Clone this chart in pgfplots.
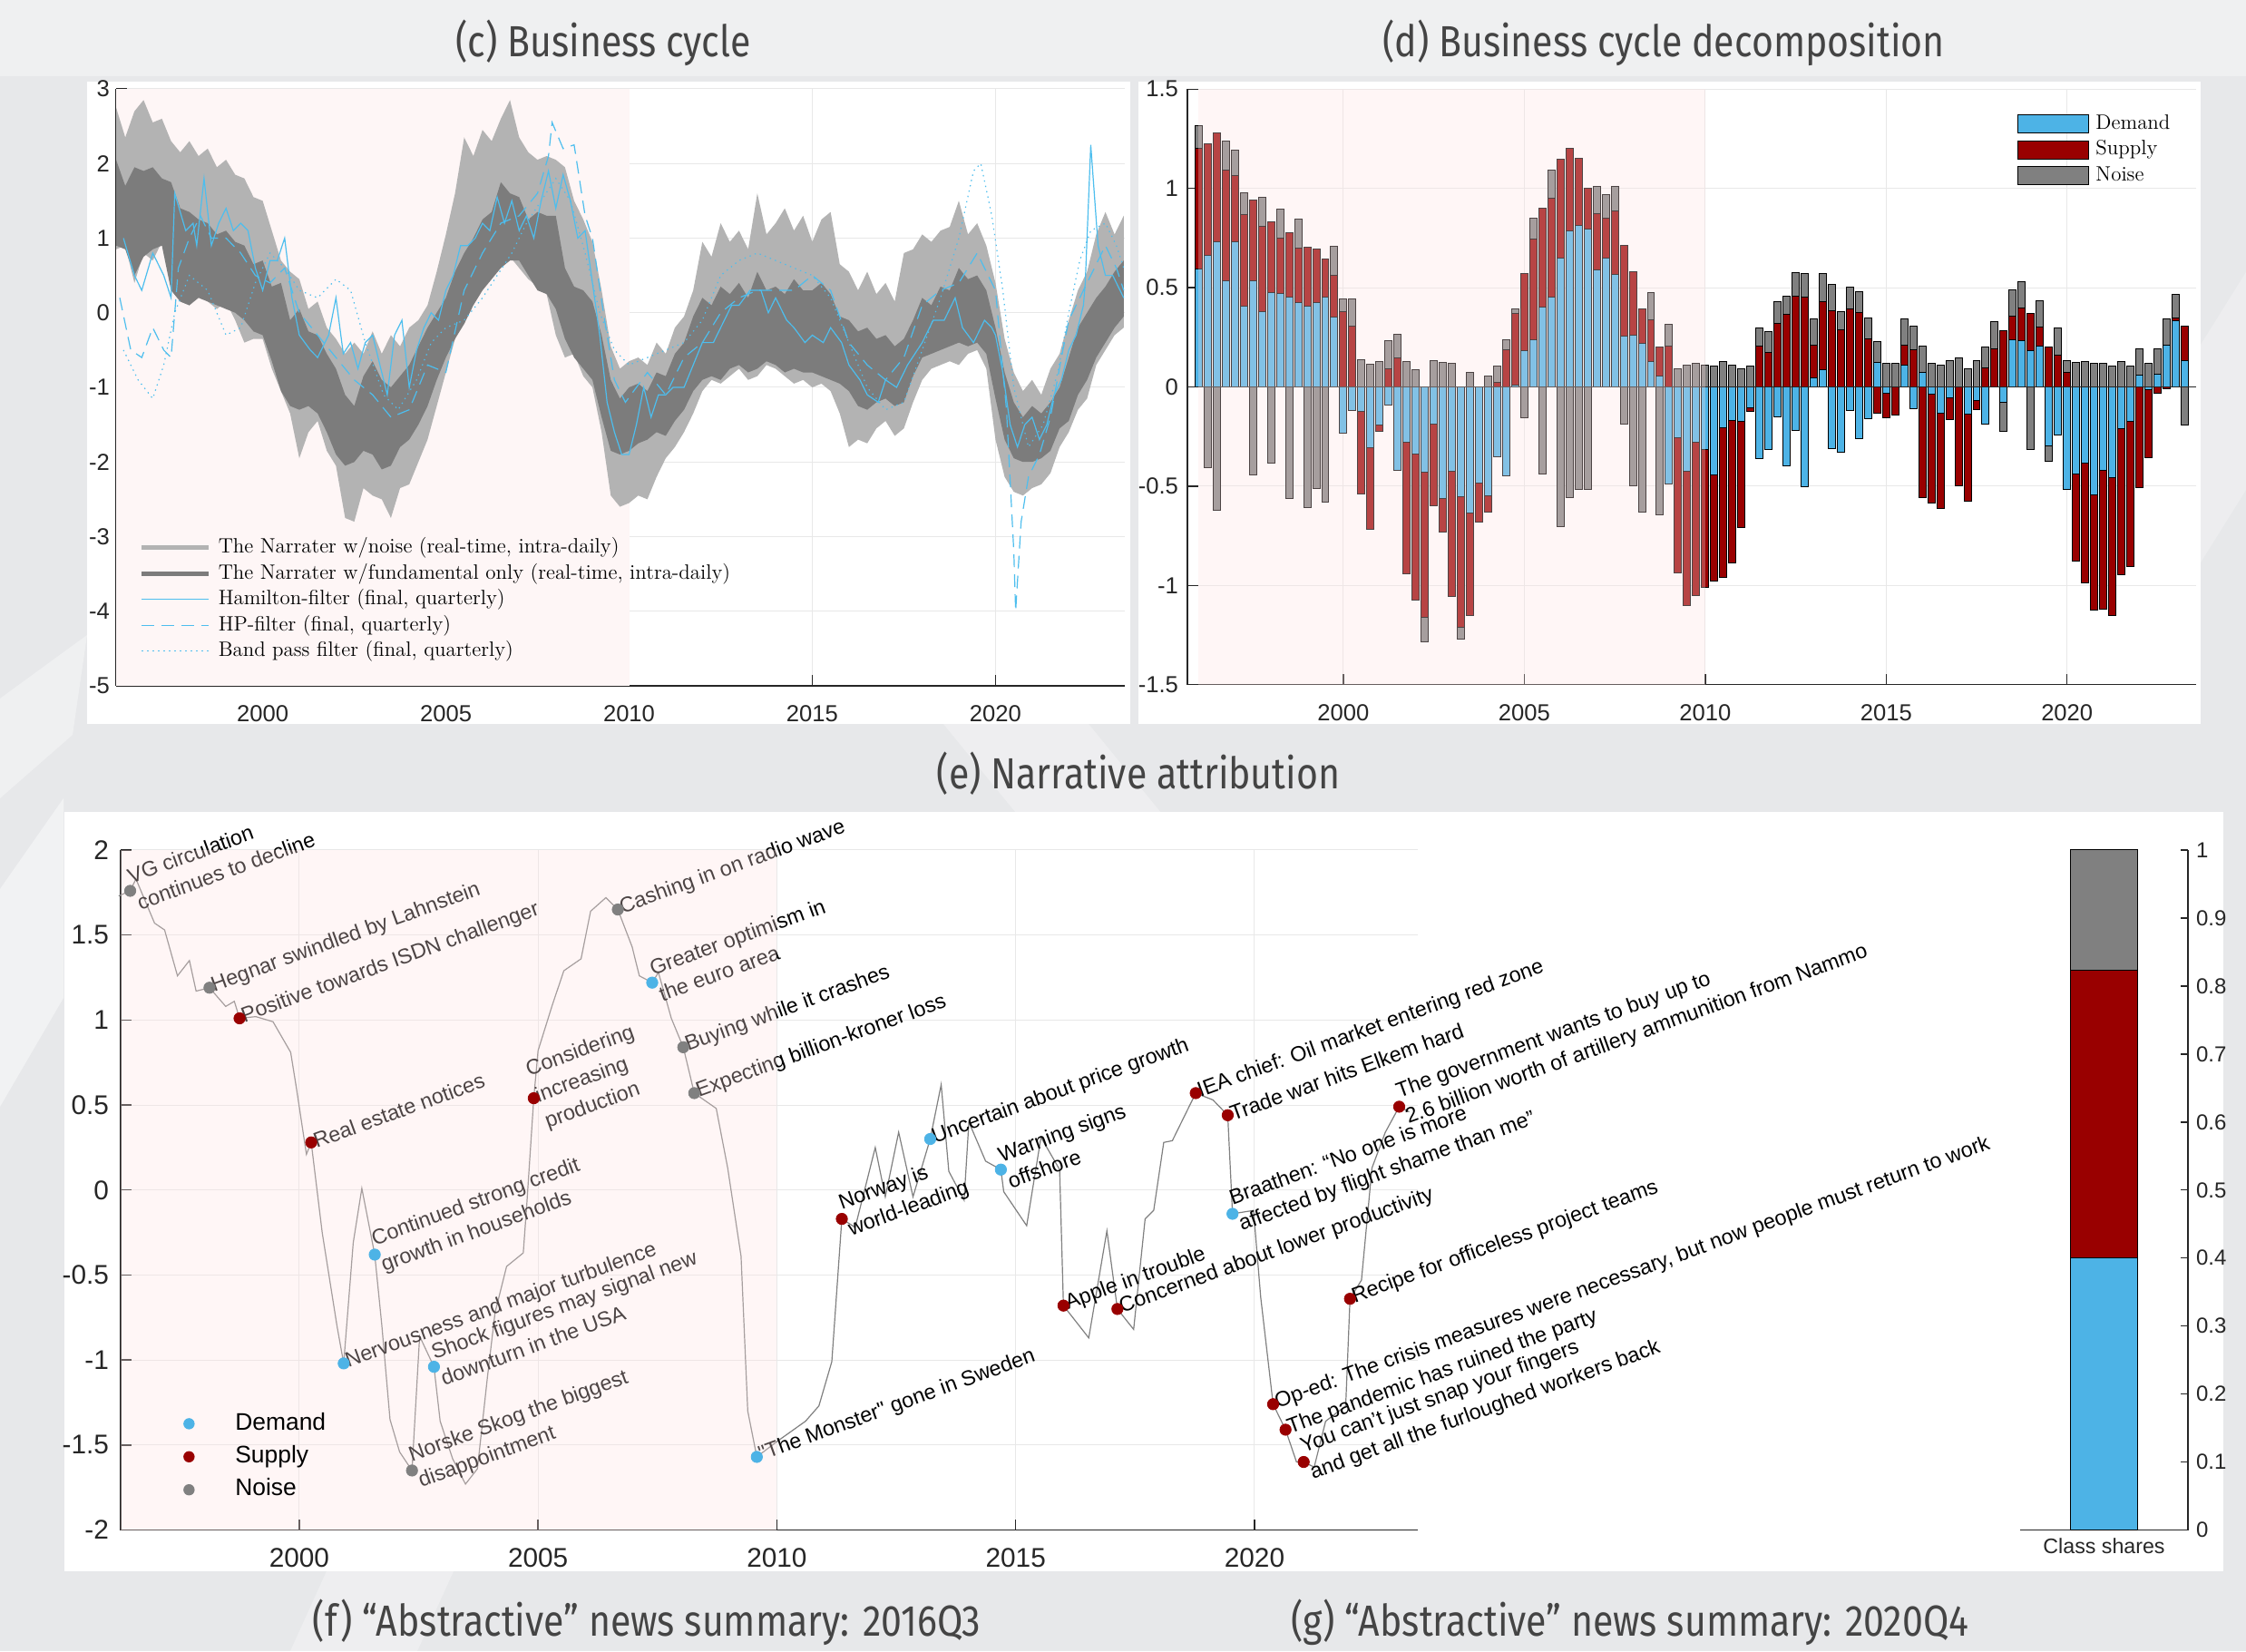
\documentclass[border=0pt]{standalone}
\usepackage{pgfplots}
\pgfplotsset{compat=1.18}
\usepackage{pgfplotstable}
\usepackage{fontspec}
\newfontfamily\arial{Liberation Sans}
\newfontfamily\fira[FakeStretch=0.855]{Fira Sans}
\definecolor{bgcol}{RGB}{231,232,234}
\definecolor{cDemand}{RGB}{77,179,230}
\definecolor{cSupply}{RGB}{153,0,0}
\definecolor{cNoise}{RGB}{128,128,128}
\definecolor{cLight}{RGB}{179,179,179}
\definecolor{cDark}{RGB}{124,124,124}
\definecolor{cLine}{RGB}{77,190,238}
\definecolor{pinkc}{RGB}{255,228,228}
\definecolor{pinkbg}{RGB}{254,246,246}
\definecolor{axcol}{RGB}{38,38,38}
\definecolor{gridcol}{RGB}{232,232,232}
\definecolor{titcol}{RGB}{68,68,68}

\pgfplotstableread{
x p1 p2 p3 n1 n2 n3
1996.00 0.593 1.200 1.316 0 0 0
1996.25 0.662 1.227 1.227 0 0 -0.409
1996.50 0.733 1.279 1.279 0 0 -0.620
1996.75 0.534 1.093 1.237 0 0 0
1997.00 0.731 1.063 1.194 0 0 0
1997.25 0.407 0.870 0.980 0 0 0
1997.50 0.534 0.941 0.941 0 0 -0.443
1997.75 0.379 0.810 0.957 0 0 0
1998.00 0.476 0.830 0.830 0 0 -0.383
1998.25 0.470 0.751 0.897 0 0 0
1998.50 0.451 0.775 0.775 0 0 -0.563
1998.75 0.423 0.700 0.846 0 0 0
1999.00 0.405 0.706 0.706 0 0 -0.609
1999.25 0.423 0.696 0.696 0 0 -0.512
1999.50 0.453 0.646 0.646 0 0 -0.579
1999.75 0.350 0.563 0.709 0 0 0
2000.00 0 0.377 0.441 -0.235 -0.235 -0.235
2000.25 0 0.306 0.443 -0.117 -0.117 -0.117
2000.50 0 0 0.136 -0.123 -0.540 -0.540
2000.75 0 0 0.115 -0.306 -0.717 -0.717
2001.00 0 0 0.126 -0.194 -0.223 -0.223
2001.25 0 0.093 0.233 -0.093 -0.093 -0.093
2001.50 0 0.144 0.267 -0.419 -0.419 -0.419
2001.75 0 0 0.130 -0.277 -0.943 -0.943
2002.00 0 0 0.087 -0.340 -1.073 -1.073
2002.25 0 0 0 -0.431 -1.160 -1.285
2002.50 0 0 0.134 -0.188 -0.597 -0.597
2002.75 0 0 0.125 -0.561 -0.731 -0.731
2003.00 0 0 0.121 -0.423 -1.057 -1.057
2003.25 0 0 0 -0.551 -1.209 -1.269
2003.50 0 0 0.071 -0.636 -1.150 -1.150
2003.75 0 0 0 -0.484 -0.680 -0.680
2004.00 0 0 0.057 -0.547 -0.630 -0.630
2004.25 0 0.024 0.107 -0.352 -0.352 -0.352
2004.50 0 0.188 0.237 -0.449 -0.449 -0.449
2004.75 0.010 0.372 0.391 0 0 0
2005.00 0.184 0.571 0.571 0 0 -0.156
2005.25 0.239 0.743 0.852 0 0 0
2005.50 0.401 0.901 0.901 0 0 -0.439
2005.75 0.453 0.951 1.093 0 0 0
2006.00 0.650 1.146 1.146 0 0 -0.704
2006.25 0.787 1.202 1.202 0 0 -0.557
2006.50 0.814 1.150 1.150 0 0 -0.518
2006.75 0.796 1.000 1.000 0 0 -0.518
2007.00 0.589 0.874 1.008 0 0 0
2007.25 0.650 0.850 0.970 0 0 0
2007.50 0.567 0.885 1.008 0 0 0
2007.75 0.255 0.711 0.711 0 0 -0.186
2008.00 0.261 0.581 0.581 0 0 -0.500
2008.25 0.219 0.391 0.391 0 0 -0.630
2008.50 0.126 0.336 0.476 0 0 0
2008.75 0.055 0.200 0.200 0 0 -0.646
2009.00 0 0.206 0.316 -0.488 -0.488 -0.488
2009.25 0 0 0.091 -0.255 -0.935 -0.935
2009.50 0 0 0.111 -0.425 -1.101 -1.101
2009.75 0 0 0.121 -0.281 -1.051 -1.051
2010.00 0 0 0.109 -0.314 -1.012 -1.012
2010.25 0 0 0.105 -0.445 -0.978 -0.978
2010.50 0 0 0.128 -0.208 -0.962 -0.962
2010.75 0 0 0.109 -0.168 -0.887 -0.887
2011.00 0 0 0.093 -0.176 -0.709 -0.709
2011.25 0 0 0.103 -0.103 -0.125 -0.125
2011.50 0 0.204 0.298 -0.360 -0.360 -0.360
2011.75 0 0.174 0.279 -0.316 -0.316 -0.316
2012.00 0 0.322 0.429 -0.152 -0.152 -0.152
2012.25 0 0.366 0.458 -0.399 -0.399 -0.399
2012.50 0 0.457 0.577 -0.221 -0.221 -0.221
2012.75 0 0.451 0.569 -0.504 -0.504 -0.504
2013.00 0.047 0.209 0.342 0 0 0
2013.25 0.085 0.429 0.569 0 0 0
2013.50 0 0.383 0.516 -0.310 -0.310 -0.310
2013.75 0 0.289 0.381 -0.330 -0.330 -0.330
2014.00 0 0.391 0.504 -0.119 -0.119 -0.119
2014.25 0 0.375 0.482 -0.261 -0.261 -0.261
2014.50 0 0.241 0.348 -0.158 -0.158 -0.158
2014.75 0.123 0.123 0.229 0 -0.134 -0.134
2015.00 0 0 0.119 -0.034 -0.154 -0.154
2015.25 0 0 0.119 0 -0.140 -0.140
2015.50 0.111 0.209 0.342 0 0 0
2015.75 0 0.188 0.308 -0.109 -0.109 -0.109
2016.00 0.075 0.075 0.206 0 -0.557 -0.557
2016.25 0 0 0.121 -0.036 -0.583 -0.583
2016.50 0 0 0.109 -0.132 -0.613 -0.613
2016.75 0 0 0.134 -0.053 -0.166 -0.166
2017.00 0 0 0.146 0 -0.498 -0.498
2017.25 0 0 0.091 -0.138 -0.577 -0.577
2017.50 0 0 0.134 -0.067 -0.115 -0.115
2017.75 0 0.095 0.202 -0.188 -0.188 -0.188
2018.00 0 0.190 0.330 0 0 0
2018.25 0 0.285 0.285 -0.079 -0.079 -0.223
2018.50 0.237 0.358 0.488 0 0 0
2018.75 0.231 0.397 0.530 0 0 0
2019.00 0.184 0.370 0.370 0 0 -0.316
2019.25 0.204 0.300 0.433 0 0 0
2019.50 0 0.200 0.200 -0.296 -0.296 -0.375
2019.75 0 0.160 0.296 -0.241 -0.241 -0.241
2020.00 0 0.071 0.132 -0.518 -0.518 -0.518
2020.25 0 0 0.125 -0.439 -0.879 -0.879
2020.50 0 0 0.130 -0.385 -0.988 -0.988
2020.75 0 0 0.119 -0.545 -1.126 -1.126
2021.00 0 0 0.121 -0.419 -1.121 -1.121
2021.25 0 0 0.105 -0.458 -1.154 -1.154
2021.50 0 0 0.130 -0.211 -0.945 -0.945
2021.75 0 0 0.105 -0.174 -0.905 -0.905
2022.00 0.059 0.059 0.190 0 -0.508 -0.508
2022.25 0 0 0.119 -0.014 -0.356 -0.356
2022.50 0.065 0.065 0.194 0 -0.034 -0.034
2022.75 0.209 0.209 0.344 0 -0.008 -0.008
2023.00 0.332 0.346 0.464 0 0 0
2023.25 0.132 0.308 0.308 0 0 -0.192
}\barsD

\pgfplotsset{
  myaxis/.style={
    scale only axis, clip=false,
    axis x line*=bottom, axis y line*=left,
    axis line style={draw=axcol, line width=0.75pt, -},
    tick align=inside, major tick length=6pt,
    every tick/.style={draw=axcol, line width=0.75pt},
    grid=major, grid style={draw=gridcol, line width=0.5pt},
    /pgf/number format/1000 sep={},
    /pgf/number format/assume math mode=true,
    ticklabel style={text=axcol},
  },
  ovl/.style={forget plot, draw=none, fill=pinkc, fill opacity=0.3},
}
\tikzset{lbl/.style={rotate=20, anchor=west, align=left, inner sep=1.5pt,
  font=\arial\fontsize{11.7}{15.3}\selectfont, text=black}}

\begin{document}
\begin{tikzpicture}
\path[use as bounding box] (0,0) rectangle (1238pt,910pt);
\fill[bgcol] (0,0) rectangle (1238pt,910pt);
% soft background decoration
\fill[white,opacity=0.35] (0,868pt) rectangle (1238pt,910pt);
\fill[white,opacity=0.45] (0pt,300pt) -- (35pt,360pt) -- (35pt,470pt) -- (0pt,420pt) -- cycle;
\fill[white,opacity=0.35] (0pt,470pt) -- (40pt,505pt) -- (48pt,560pt) -- (0pt,525pt) -- cycle;
\fill[white,opacity=0.3] (560pt,462pt) -- (640pt,462pt) -- (600pt,511pt) -- (520pt,511pt) -- cycle;
\fill[white,opacity=0.3] (160pt,0pt) -- (230pt,0pt) -- (250pt,44pt) -- (180pt,44pt) -- cycle;
\fill[white,opacity=0.25] (1213pt,600pt) -- (1238pt,640pt) -- (1238pt,760pt) -- (1213pt,720pt) -- cycle;
% white panels
\fill[white] (48pt,511pt) rectangle (623pt,865pt);
\fill[white] (627.5pt,511pt) rectangle (1213pt,865pt);
\fill[white] (35.5pt,44pt) rectangle (1225.5pt,462.5pt);
% titles
\node[text=titcol, font=\fira\fontsize{24}{28}\selectfont] at (332.5pt,886.5pt) {(c) Business cycle};
\node[text=titcol, font=\fira\fontsize{24}{28}\selectfont] at (917pt,886.5pt) {(d) Business cycle decomposition};
\node[text=titcol, font=\fira\fontsize{24}{28}\selectfont] at (627.5pt,483.5pt) {(e) Narrative attribution};
\node[text=titcol, font=\fira\fontsize{24}{28}\selectfont] at (356.5pt,16pt) {(f) “Abstractive” news summary: 2016Q3};
\node[text=titcol, font=\fira\fontsize{24}{28}\selectfont] at (898.5pt,16pt) {(g) “Abstractive” news summary: 2020Q4};

% ---------------- (c) ----------------
\begin{axis}[myaxis, at={(64pt,532pt)}, anchor=south west, width=556pt, height=329pt,
  xmin=1996, xmax=2023.53, ymin=-5, ymax=3,
  xtick={2000,2005,2010,2015,2020}, ytick={-5,-4,-3,-2,-1,0,1,2,3},
  ticklabel style={font=\arial\fontsize{12.8}{14}\selectfont},
  xticklabel style={yshift=-7.2pt},
  legend style={at={(0.0228,0.2508)}, anchor=north west, draw=none, fill=none,
    inner sep=0pt, row sep=1.75pt, column sep=3.5pt,
    font=\fontsize{11.45}{13}\selectfont,
    nodes={inner sep=0.5pt, text height=8.6pt, text depth=2.9pt}},
  legend cell align=left,
  legend image code/.code={\draw[#1] (0pt,0pt) -- (37pt,0pt);}]
\addplot[forget plot, draw=none, fill=pinkbg] coordinates {(1996,-5) (2010,-5) (2010,3) (1996,3)};
\addplot[forget plot, fill=cLight, draw=none] coordinates {
(1996.00,2.75) (1996.25,2.35) (1996.50,2.70) (1996.75,2.85) (1997.00,2.55) (1997.25,2.60) (1997.50,2.30) (1997.75,2.15) (1998.00,2.30) (1998.25,2.10) (1998.50,2.20) (1998.75,1.95) (1999.00,2.05) (1999.25,1.85) (1999.50,1.80) (1999.75,1.55) (2000.00,1.50) (2000.25,1.10) (2000.50,0.70) (2000.75,0.55) (2001.00,0.45) (2001.25,0.05) (2001.50,0.15) (2001.75,-0.20) (2002.00,-0.35) (2002.25,-0.55) (2002.50,-0.40) (2002.75,-0.55) (2003.00,-0.25) (2003.25,-0.55) (2003.50,-0.30) (2003.75,-0.45) (2004.00,-0.20) (2004.25,-0.10) (2004.50,0.10) (2004.75,0.55) (2005.00,1.05) (2005.25,1.60) (2005.50,2.35) (2005.75,2.10) (2006.00,2.45) (2006.25,2.30) (2006.50,2.60) (2006.75,2.85) (2007.00,2.35) (2007.25,2.15) (2007.50,2.05) (2007.75,2.10) (2008.00,2.05) (2008.25,1.95) (2008.50,1.50) (2008.75,1.25) (2009.00,0.95) (2009.25,0.30) (2009.50,-0.45) (2009.75,-0.75) (2010.00,-0.65) (2010.25,-0.60) (2010.50,-0.70) (2010.75,-0.40) (2011.00,-0.55) (2011.25,-0.20) (2011.50,-0.05) (2011.75,0.30) (2012.00,0.95) (2012.25,0.75) (2012.50,1.20) (2012.75,0.95) (2013.00,1.10) (2013.25,0.85) (2013.50,1.60) (2013.75,1.05) (2014.00,1.20) (2014.25,1.40) (2014.50,1.10) (2014.75,1.30) (2015.00,0.95) (2015.25,1.25) (2015.50,1.35) (2015.75,0.65) (2016.00,0.55) (2016.25,0.30) (2016.50,0.55) (2016.75,0.25) (2017.00,0.40) (2017.25,0.15) (2017.50,0.80) (2017.75,0.85) (2018.00,1.05) (2018.25,0.95) (2018.50,1.10) (2018.75,1.15) (2019.00,1.50) (2019.25,1.05) (2019.50,1.20) (2019.75,0.90) (2020.00,0.40) (2020.25,-0.35) (2020.50,-0.80) (2020.75,-1.05) (2021.00,-0.90) (2021.25,-1.10) (2021.50,-0.75) (2021.75,-0.55) (2022.00,-0.10) (2022.25,0.30) (2022.50,0.55) (2022.75,1.05) (2023.00,1.35) (2023.25,1.05) (2023.50,1.30)
(2023.50,-0.20) (2023.25,-0.30) (2023.00,-0.50) (2022.75,-0.70) (2022.50,-1.15) (2022.25,-1.30) (2022.00,-1.60) (2021.75,-1.80) (2021.50,-2.15) (2021.25,-2.30) (2021.00,-2.35) (2020.75,-2.45) (2020.50,-2.40) (2020.25,-2.20) (2020.00,-1.70) (2019.75,-0.75) (2019.50,-0.50) (2019.25,-0.55) (2019.00,-0.70) (2018.75,-0.65) (2018.50,-0.70) (2018.25,-0.75) (2018.00,-0.90) (2017.75,-1.20) (2017.50,-1.55) (2017.25,-1.65) (2017.00,-1.45) (2016.75,-1.55) (2016.50,-1.75) (2016.25,-1.70) (2016.00,-1.80) (2015.75,-1.35) (2015.50,-1.05) (2015.25,-0.95) (2015.00,-1.00) (2014.75,-0.90) (2014.50,-0.95) (2014.25,-0.85) (2014.00,-0.75) (2013.75,-0.70) (2013.50,-0.85) (2013.25,-0.90) (2013.00,-0.75) (2012.75,-0.85) (2012.50,-0.95) (2012.25,-0.90) (2012.00,-1.05) (2011.75,-1.35) (2011.50,-1.60) (2011.25,-1.80) (2011.00,-1.95) (2010.75,-2.20) (2010.50,-2.50) (2010.25,-2.45) (2010.00,-2.55) (2009.75,-2.60) (2009.50,-2.45) (2009.25,-1.60) (2009.00,-1.00) (2008.75,-0.85) (2008.50,-0.55) (2008.25,-0.60) (2008.00,-0.30) (2007.75,0.25) (2007.50,0.35) (2007.25,0.45) (2007.00,0.60) (2006.75,0.75) (2006.50,0.60) (2006.25,0.55) (2006.00,0.40) (2005.75,0.20) (2005.50,0.00) (2005.25,-0.35) (2005.00,-0.80) (2004.75,-1.25) (2004.50,-1.70) (2004.25,-2.00) (2004.00,-2.30) (2003.75,-2.35) (2003.50,-2.75) (2003.25,-2.50) (2003.00,-2.45) (2002.75,-2.35) (2002.50,-2.80) (2002.25,-2.75) (2002.00,-2.05) (2001.75,-1.85) (2001.50,-1.45) (2001.25,-1.60) (2001.00,-1.95) (2000.75,-1.35) (2000.50,-1.05) (2000.25,-0.75) (2000.00,-0.35) (1999.75,-0.35) (1999.50,-0.40) (1999.25,-0.10) (1999.00,0.15) (1998.75,0.05) (1998.50,0.15) (1998.25,0.25) (1998.00,0.10) (1997.75,0.15) (1997.50,0.45) (1997.25,0.95) (1997.00,0.70) (1996.75,0.80) (1996.50,0.40) (1996.25,0.90) (1996.00,0.85)
};
\addplot[forget plot, fill=cDark, draw=none] coordinates {
(1996.00,2.05) (1996.25,1.70) (1996.50,1.95) (1996.75,1.90) (1997.00,1.95) (1997.25,1.80) (1997.50,1.75) (1997.75,1.40) (1998.00,1.35) (1998.25,1.25) (1998.50,1.20) (1998.75,1.05) (1999.00,1.10) (1999.25,0.95) (1999.50,0.90) (1999.75,0.65) (2000.00,0.70) (2000.25,0.35) (2000.50,0.40) (2000.75,-0.10) (2001.00,0.05) (2001.25,-0.25) (2001.50,-0.30) (2001.75,-0.55) (2002.00,-0.75) (2002.25,-1.10) (2002.50,-1.25) (2002.75,-0.85) (2003.00,-0.65) (2003.25,-0.90) (2003.50,-1.00) (2003.75,-0.85) (2004.00,-0.70) (2004.25,-0.45) (2004.50,-0.20) (2004.75,0.00) (2005.00,0.20) (2005.25,0.55) (2005.50,0.80) (2005.75,1.00) (2006.00,1.25) (2006.25,1.35) (2006.50,1.75) (2006.75,1.60) (2007.00,1.55) (2007.25,1.25) (2007.50,1.35) (2007.75,1.30) (2008.00,1.30) (2008.25,0.60) (2008.50,0.35) (2008.75,0.30) (2009.00,0.15) (2009.25,-0.30) (2009.50,-0.90) (2009.75,-1.15) (2010.00,-1.00) (2010.25,-0.95) (2010.50,-1.05) (2010.75,-0.80) (2011.00,-0.85) (2011.25,-0.55) (2011.50,-0.40) (2011.75,-0.05) (2012.00,0.20) (2012.25,0.10) (2012.50,0.35) (2012.75,0.25) (2013.00,0.40) (2013.25,0.20) (2013.50,0.55) (2013.75,0.30) (2014.00,0.35) (2014.25,0.25) (2014.50,0.45) (2014.75,0.30) (2015.00,0.30) (2015.25,0.40) (2015.50,0.25) (2015.75,-0.05) (2016.00,-0.10) (2016.25,-0.25) (2016.50,-0.20) (2016.75,-0.35) (2017.00,-0.30) (2017.25,-0.45) (2017.50,-0.35) (2017.75,-0.10) (2018.00,0.20) (2018.25,0.10) (2018.50,0.35) (2018.75,0.30) (2019.00,0.60) (2019.25,0.45) (2019.50,0.50) (2019.75,0.30) (2020.00,-0.20) (2020.25,-0.80) (2020.50,-1.20) (2020.75,-1.40) (2021.00,-1.25) (2021.25,-1.35) (2021.50,-1.20) (2021.75,-1.00) (2022.00,-0.60) (2022.25,-0.20) (2022.50,0.00) (2022.75,0.20) (2023.00,0.35) (2023.25,0.55) (2023.50,0.70)
(2023.50,-0.05) (2023.25,-0.20) (2023.00,-0.40) (2022.75,-0.60) (2022.50,-0.90) (2022.25,-1.10) (2022.00,-1.45) (2021.75,-1.55) (2021.50,-1.85) (2021.25,-1.95) (2021.00,-2.00) (2020.75,-2.00) (2020.50,-1.95) (2020.25,-1.70) (2020.00,-1.15) (2019.75,-0.55) (2019.50,-0.40) (2019.25,-0.45) (2019.00,-0.40) (2018.75,-0.45) (2018.50,-0.50) (2018.25,-0.55) (2018.00,-0.60) (2017.75,-0.85) (2017.50,-1.20) (2017.25,-1.25) (2017.00,-1.15) (2016.75,-1.20) (2016.50,-1.30) (2016.25,-1.25) (2016.00,-1.05) (2015.75,-0.95) (2015.50,-0.90) (2015.25,-0.85) (2015.00,-0.80) (2014.75,-0.80) (2014.50,-0.75) (2014.25,-0.80) (2014.00,-0.70) (2013.75,-0.65) (2013.50,-0.75) (2013.25,-0.80) (2013.00,-0.70) (2012.75,-0.75) (2012.50,-0.90) (2012.25,-0.85) (2012.00,-0.90) (2011.75,-1.05) (2011.50,-1.30) (2011.25,-1.45) (2011.00,-1.65) (2010.75,-1.60) (2010.50,-1.70) (2010.25,-1.75) (2010.00,-1.85) (2009.75,-1.90) (2009.50,-1.85) (2009.25,-1.40) (2009.00,-0.90) (2008.75,-0.75) (2008.50,-0.60) (2008.25,-0.35) (2008.00,0.05) (2007.75,0.25) (2007.50,0.30) (2007.25,0.50) (2007.00,0.70) (2006.75,0.70) (2006.50,0.60) (2006.25,0.45) (2006.00,0.30) (2005.75,0.10) (2005.50,-0.15) (2005.25,-0.35) (2005.00,-0.60) (2004.75,-0.90) (2004.50,-1.25) (2004.25,-1.50) (2004.00,-1.70) (2003.75,-1.80) (2003.50,-2.05) (2003.25,-2.10) (2003.00,-1.90) (2002.75,-1.85) (2002.50,-2.00) (2002.25,-2.05) (2002.00,-1.90) (2001.75,-1.60) (2001.50,-1.35) (2001.25,-1.25) (2001.00,-1.30) (2000.75,-1.25) (2000.50,-1.05) (2000.25,-0.65) (2000.00,-0.30) (1999.75,-0.25) (1999.50,-0.10) (1999.25,0.00) (1999.00,0.05) (1998.75,0.10) (1998.50,0.15) (1998.25,0.20) (1998.00,0.10) (1997.75,0.15) (1997.50,0.30) (1997.25,0.90) (1997.00,0.85) (1996.75,0.75) (1996.50,0.50) (1996.25,0.85) (1996.00,0.90)
};
\addlegendimage{line width=2.5pt, color=cLight}
\addlegendentry{The Narrater w/noise (real-time, intra-daily)}
\addlegendimage{line width=2.5pt, color=cDark}
\addlegendentry{The Narrater w/fundamental only (real-time, intra-daily)}
\addplot[cLine, line width=0.6pt] coordinates {
(1996.2,1.0) (1996.5,0.5) (1996.7,0.3) (1997.0,0.8) (1997.3,0.5) (1997.5,0.2) (1997.6,1.6) (1997.9,1.1) (1998.1,1.2) (1998.2,0.9) (1998.4,1.8) (1998.6,0.9) (1998.8,1.2) (1999.0,1.4) (1999.2,1.1) (1999.4,1.2) (1999.6,1.1) (1999.8,0.6) (2000.0,0.3) (2000.2,0.7) (2000.4,0.7) (2000.6,1.0) (2000.8,0.2) (2001.0,-0.3) (2001.3,-0.5) (2001.5,-0.6) (2001.8,-0.3) (2002.0,0.2) (2002.2,-0.55) (2002.4,-0.4) (2002.6,-0.75) (2002.8,-0.4) (2003.0,-0.3) (2003.2,-0.7) (2003.4,-1.1) (2003.6,-0.3) (2003.8,-0.1) (2004.0,-1.0) (2004.2,-0.5) (2004.4,-0.2) (2004.6,0.0) (2004.8,-0.1) (2005.0,0.3) (2005.2,0.5) (2005.4,0.9) (2005.6,0.9) (2005.8,1.0) (2006.0,1.2) (2006.2,1.1) (2006.4,1.55) (2006.6,1.2) (2006.8,1.5) (2007.0,1.1) (2007.2,1.3) (2007.4,1.0) (2007.6,1.5) (2007.8,1.9) (2008.0,1.4) (2008.2,1.85) (2008.4,1.5) (2008.6,1.0) (2008.8,1.1) (2009.0,0.4) (2009.2,-0.3) (2009.4,-1.2) (2009.6,-1.6) (2009.8,-1.9) (2010.0,-1.9) (2010.2,-1.5) (2010.4,-1.0) (2010.6,-1.4) (2010.8,-1.1) (2011.0,-1.1) (2011.2,-1.0) (2011.5,-1.0) (2011.75,-0.7) (2012.0,-0.4) (2012.3,-0.4) (2012.5,-0.2) (2012.8,0.1) (2013.0,0.1) (2013.3,0.3) (2013.6,0.3) (2013.8,0.0) (2014.0,0.2) (2014.3,-0.1) (2014.5,-0.2) (2014.8,-0.4) (2015.0,-0.3) (2015.3,-0.4) (2015.5,-0.2) (2015.8,-0.4) (2016.0,-0.7) (2016.3,-0.9) (2016.5,-1.1) (2016.8,-1.2) (2017.0,-0.9) (2017.3,-1.0) (2017.6,-0.7) (2018.0,-0.4) (2018.3,-0.1) (2018.6,-0.1) (2018.9,0.2) (2019.1,-0.2) (2019.4,-0.4) (2019.7,-0.1) (2019.9,-0.2) (2020.0,-0.3) (2020.2,-0.8) (2020.4,-1.5) (2020.6,-1.8) (2020.8,-1.5) (2021.0,-1.4) (2021.2,-1.7) (2021.4,-1.5) (2021.6,-1.1) (2021.8,-0.9) (2022.0,-0.5) (2022.2,-0.3) (2022.4,0.1) (2022.45,0.4) (2022.6,2.25) (2022.8,0.9) (2023.0,0.5) (2023.2,0.5) (2023.5,0.2)
};
\addlegendentry{Hamilton-filter (final, quarterly)}
\addplot[cLine, line width=0.6pt, dash pattern=on 7pt off 4pt] coordinates {
(1996.1,0.2) (1996.4,-0.5) (1996.7,-0.6) (1997.0,-0.2) (1997.3,-0.5) (1997.5,-0.6) (1997.7,0.6) (1998.0,1.0) (1998.3,1.3) (1998.6,1.0) (1999.0,1.0) (1999.4,0.8) (1999.8,0.5) (2000.2,0.4) (2000.6,0.6) (2001.0,0.0) (2001.5,-0.3) (2002.0,-0.6) (2002.5,-0.9) (2003.0,-1.1) (2003.5,-1.4) (2004.0,-1.3) (2004.5,-0.7) (2005.0,-0.8) (2005.5,0.3) (2006.0,0.8) (2006.5,1.2) (2007.0,1.3) (2007.5,1.6) (2007.8,2.1) (2007.9,2.55) (2008.2,2.2) (2008.5,2.25) (2008.8,1.3) (2009.0,1.0) (2009.3,0.0) (2009.6,-0.9) (2009.9,-1.2) (2010.2,-1.0) (2010.5,-0.8) (2011.0,-1.1) (2011.5,-0.6) (2012.0,-0.4) (2012.5,0.0) (2013.0,0.2) (2013.5,0.3) (2014.0,0.3) (2014.5,0.3) (2015.0,0.5) (2015.5,0.3) (2016.0,-0.4) (2016.5,-0.7) (2017.0,-0.9) (2017.5,-0.6) (2018.0,0.1) (2018.5,0.3) (2019.0,0.4) (2019.5,0.8) (2020.0,0.3) (2020.3,-1.3) (2020.5,-3.2) (2020.55,-4.0) (2020.7,-2.8) (2020.9,-2.2) (2021.2,-1.9) (2021.5,-1.4) (2021.8,-0.6) (2022.0,-0.1) (2022.3,0.2) (2022.6,0.5) (2023.0,0.9) (2023.3,0.6) (2023.5,0.3)
};
\addlegendentry{HP-filter (final, quarterly)}
\addplot[cLine, line width=0.6pt, dash pattern=on 0.7pt off 2.3pt] coordinates {
(1996.2,-0.5) (1996.6,-0.9) (1997.0,-1.15) (1997.3,-0.7) (1997.6,0.0) (1998.0,0.5) (1998.5,0.3) (1999.0,-0.3) (1999.4,-0.2) (1999.8,0.4) (2000.2,0.8) (2000.6,0.6) (2001.0,0.3) (2001.5,0.2) (2002.0,0.45) (2002.4,0.3) (2002.8,-0.4) (2003.3,-1.1) (2003.7,-1.3) (2004.2,-0.9) (2004.6,-0.4) (2005.0,-0.2) (2005.5,-0.1) (2006.0,0.2) (2006.4,0.5) (2006.8,0.8) (2007.2,1.2) (2007.6,1.5) (2008.0,1.8) (2008.4,1.5) (2008.8,0.8) (2009.2,0.0) (2009.6,-0.5) (2010.0,-0.7) (2010.5,-0.6) (2011.0,-0.5) (2011.5,-0.4) (2012.0,-0.1) (2012.5,0.5) (2013.0,0.7) (2013.5,0.8) (2014.0,0.7) (2014.5,0.6) (2015.0,0.5) (2015.5,0.2) (2016.0,-0.4) (2016.5,-1.0) (2017.0,-1.3) (2017.5,-1.2) (2018.0,-0.5) (2018.5,0.2) (2019.0,1.0) (2019.4,1.9) (2019.6,2.0) (2019.9,1.3) (2020.2,0.3) (2020.5,-1.0) (2020.9,-1.8) (2021.3,-1.5) (2021.7,-0.8) (2022.0,0.0) (2022.3,0.7) (2022.6,1.1) (2023.0,1.2) (2023.3,0.9) (2023.5,0.6)
};
\addlegendentry{Band pass filter (final, quarterly)}
\end{axis}

% ---------------- (d) ----------------
\begin{axis}[myaxis, at={(654.5pt,532.65pt)}, anchor=south west, width=555.85pt, height=328.2pt,
  xmin=1995.69, xmax=2023.56, ymin=-1.5, ymax=1.5,
  xtick={2000,2005,2010,2015,2020}, ytick={-1.5,-1,-0.5,0,0.5,1,1.5},
  ticklabel style={font=\arial\fontsize{12.8}{14}\selectfont},
  xticklabel style={yshift=-7.2pt}, yticklabel style={xshift=-1.5pt},
  legend style={at={(0.8231,0.961)}, anchor=north west, draw=none, fill=none,
    inner sep=0pt, row sep=1.75pt, column sep=3pt,
    font=\fontsize{11.45}{13}\selectfont,
    nodes={inner sep=0.5pt, text height=8.6pt, text depth=2.9pt}},
  legend cell align=left,
  legend image code/.code={\draw[#1] (0pt,-5pt) rectangle (39pt,5pt);}]
\addlegendimage{fill=cDemand, draw=black, line width=0.5pt}
\addlegendentry{Demand}
\addlegendimage{fill=cSupply, draw=black, line width=0.5pt}
\addlegendentry{Supply}
\addlegendimage{fill=cNoise, draw=black, line width=0.5pt}
\addlegendentry{Noise}
\addplot[forget plot, ybar, bar width=0.2, bar shift=0pt, fill=cNoise, draw=black, line width=0.5pt] table[x=x,y=p3] {\barsD};
\addplot[forget plot, ybar, bar width=0.2, bar shift=0pt, fill=cSupply, draw=black, line width=0.5pt] table[x=x,y=p2] {\barsD};
\addplot[forget plot, ybar, bar width=0.2, bar shift=0pt, fill=cDemand, draw=black, line width=0.5pt] table[x=x,y=p1] {\barsD};
\addplot[forget plot, ybar, bar width=0.2, bar shift=0pt, fill=cNoise, draw=black, line width=0.5pt] table[x=x,y=n3] {\barsD};
\addplot[forget plot, ybar, bar width=0.2, bar shift=0pt, fill=cSupply, draw=black, line width=0.5pt] table[x=x,y=n2] {\barsD};
\addplot[forget plot, ybar, bar width=0.2, bar shift=0pt, fill=cDemand, draw=black, line width=0.5pt] table[x=x,y=n1] {\barsD};
\addplot[forget plot, axcol, line width=0.6pt] coordinates {(1995.69,0) (2023.56,0)};
\addplot[ovl] coordinates {(1996,-1.5) (2010,-1.5) (2010,1.5) (1996,1.5)};
\end{axis}

% ---------------- (e) ----------------
\begin{axis}[myaxis, at={(66.5pt,66.75pt)}, anchor=south west, width=715pt, height=374.75pt,
  xmin=1996.26, xmax=2023.42, ymin=-2, ymax=2,
  xtick={2000,2005,2010,2015,2020}, ytick={-2,-1.5,-1,-0.5,0,0.5,1,1.5,2},
  ticklabel style={font=\arial\fontsize{14.9}{16}\selectfont},
  xticklabel style={yshift=-6.8pt}, yticklabel style={xshift=-3pt},
  legend style={at={(0.0481,0.1757)}, anchor=north west, draw=none, fill=none,
    inner sep=0pt, row sep=4pt, column sep=3pt,
    font=\arial\fontsize{13.2}{15}\selectfont,
    nodes={inner sep=0.5pt, text height=9.9pt, text depth=3.3pt}},
  legend cell align=left]
\addplot[forget plot, cNoise, line width=0.6pt] coordinates {
(1996.22,1.73) (1996.46,1.76) (1996.58,1.83) (1996.97,1.57) (1997.18,1.53) (1997.45,1.26) (1997.70,1.35) (1997.84,1.17) (1998.12,1.19) (1998.46,1.08) (1998.64,1.11) (1998.75,1.01) (1999.09,1.02) (1999.45,0.99) (1999.82,0.81) (1999.94,0.60) (2000.15,0.21) (2000.25,0.28) (2000.48,-0.25) (2000.79,-0.80) (2000.93,-1.02) (2001.13,-0.31) (2001.31,0.01) (2001.58,-0.38) (2001.73,-0.80) (2001.90,-1.35) (2002.10,-1.54) (2002.36,-1.65) (2002.52,-0.86) (2002.82,-1.04) (2002.95,-1.36) (2003.21,-1.58) (2003.48,-1.73) (2003.73,-1.64) (2003.94,-1.10) (2004.10,-0.72) (2004.34,-0.45) (2004.69,-0.37) (2004.76,-0.10) (2004.91,0.54) (2005.00,0.82) (2005.30,1.09) (2005.54,1.29) (2005.90,1.36) (2006.10,1.64) (2006.42,1.72) (2006.67,1.65) (2006.97,1.43) (2007.12,1.26) (2007.39,1.22) (2007.52,1.28) (2007.79,1.01) (2008.04,0.84) (2008.16,0.70) (2008.27,0.57) (2008.73,0.48) (2008.97,0.13) (2009.25,-0.39) (2009.39,-1.30) (2009.58,-1.57) (2010.00,-1.48) (2010.60,-1.36) (2010.88,-1.27) (2011.15,-1.01) (2011.36,-0.17) (2011.64,-0.22) (2012.06,0.25) (2012.27,-0.04) (2012.55,0.34) (2012.85,-0.04) (2013.21,0.30) (2013.44,0.62) (2013.60,0.11) (2013.92,-0.06) (2014.02,0.40) (2014.37,0.17) (2014.69,0.12) (2014.75,-0.01) (2015.23,-0.21) (2015.53,0.31) (2015.92,0.12) (2016.00,-0.68) (2016.53,-0.87) (2016.91,-0.24) (2017.13,-0.70) (2017.47,-0.82) (2017.71,-0.17) (2017.89,-0.12) (2018.10,0.28) (2018.28,0.29) (2018.77,0.57) (2019.13,0.53) (2019.44,0.44) (2019.54,-0.14) (2019.98,-0.12) (2020.13,-0.63) (2020.39,-1.26) (2020.65,-1.41) (2020.88,-1.60) (2021.03,-1.60) (2021.25,-1.63) (2021.49,-1.36) (2021.91,-1.27) (2022.00,-0.64) (2022.24,-0.53) (2022.46,0.13) (2022.74,0.34) (2023.03,0.49) (2023.24,0.46)
};
\addplot[forget plot, only marks, mark=*, mark size=3.1pt, color=cDemand] coordinates {
(2000.93,-1.02) (2001.58,-0.38) (2002.82,-1.04) (2007.39,1.22) (2009.58,-1.57) (2013.21,0.30) (2014.69,0.12) (2019.54,-0.14)};
\addplot[forget plot, only marks, mark=*, mark size=3.1pt, color=cSupply] coordinates {
(1998.75,1.01) (2000.25,0.28) (2004.91,0.54) (2011.36,-0.17) (2016.00,-0.68) (2017.13,-0.70) (2018.77,0.57) (2019.44,0.44) (2020.39,-1.26) (2020.65,-1.41) (2021.03,-1.60) (2022.00,-0.64) (2023.03,0.49)};
\addplot[forget plot, only marks, mark=*, mark size=3.1pt, color=cNoise] coordinates {
(1996.46,1.76) (1998.12,1.19) (2002.36,-1.65) (2006.67,1.65) (2008.04,0.84) (2008.27,0.57)};
\node[lbl] at (axis cs:1996.46,1.76) {VG circulation\\continues to decline};
\node[lbl] at (axis cs:1998.12,1.19) {Hegnar swindled by Lahnstein};
\node[lbl] at (axis cs:1998.75,1.01) {Positive towards ISDN challenger};
\node[lbl] at (axis cs:2000.25,0.28) {Real estate notices};
\node[lbl] at (axis cs:2000.93,-1.02) {Nervousness and major turbulence};
\node[lbl] at (axis cs:2001.58,-0.38) {Continued strong credit\\growth in households};
\node[lbl] at (axis cs:2002.36,-1.65) {Norske Skog the biggest\\disappointment};
\node[lbl] at (axis cs:2002.82,-1.04) {Shock figures may signal new\\downturn in the USA};
\node[lbl] at (axis cs:2004.91,0.54) {Considering\\increasing\\production};
\node[lbl] at (axis cs:2006.67,1.65) {Cashing in on radio wave};
\node[lbl] at (axis cs:2007.39,1.22) {Greater optimism in\\the euro area};
\node[lbl] at (axis cs:2008.04,0.84) {Buying while it crashes};
\node[lbl] at (axis cs:2008.27,0.57) {Expecting billion-kroner loss};
\node[lbl] at (axis cs:2009.58,-1.57) {"The Monster" gone in Sweden};
\node[lbl] at (axis cs:2011.36,-0.17) {Norway is\\world-leading};
\node[lbl] at (axis cs:2013.21,0.30) {Uncertain about price growth};
\node[lbl] at (axis cs:2014.69,0.12) {Warning signs\\offshore};
\node[lbl] at (axis cs:2016.00,-0.68) {Apple in trouble};
\node[lbl] at (axis cs:2017.13,-0.70) {Concerned about lower productivity};
\node[lbl] at (axis cs:2018.77,0.57) {IEA chief: Oil market entering red zone};
\node[lbl] at (axis cs:2019.44,0.44) {Trade war hits Elkem hard};
\node[lbl] at (axis cs:2019.54,-0.14) {Braathen: “No one is more\\affected by flight shame than me”};
\node[lbl] at (axis cs:2020.39,-1.26) {Op-ed: The crisis measures were necessary, but now people must return to work};
\node[lbl] at (axis cs:2020.65,-1.41) {The pandemic has ruined the party};
\node[lbl] at (axis cs:2021.03,-1.60) {You can’t just snap your fingers\\and get all the furloughed workers back};
\node[lbl] at (axis cs:2022.00,-0.64) {Recipe for officeless project teams};
\node[lbl] at (axis cs:2023.03,0.49) {The government wants to buy up to\\2.6 billion worth of artillery ammunition from Nammo};
\addplot[ovl] coordinates {(1996.26,-2) (2010,-2) (2010,2) (1996.26,2)};
\addlegendimage{legend image code/.code={\fill[cDemand, draw=none] (0pt,0pt) circle (3.1pt); \path[draw=none, fill=none] (-3.1pt,-3pt) rectangle (22pt,3pt);}}
\addlegendentry{Demand}
\addlegendimage{legend image code/.code={\fill[cSupply, draw=none] (0pt,0pt) circle (3.1pt); \path[draw=none, fill=none] (-3.1pt,-3pt) rectangle (22pt,3pt);}}
\addlegendentry{Supply}
\addlegendimage{legend image code/.code={\fill[cNoise, draw=none] (0pt,0pt) circle (3.1pt); \path[draw=none, fill=none] (-3.1pt,-3pt) rectangle (22pt,3pt);}}
\addlegendentry{Noise}
\end{axis}

% ---------------- class shares ----------------
\begin{axis}[scale only axis, clip=false, at={(1113.5pt,66.75pt)}, anchor=south west, width=92.5pt, height=374.75pt,
  xmin=0, xmax=1, ymin=0, ymax=1,
  axis x line*=bottom, axis y line*=right,
  axis line style={draw=axcol, line width=0.75pt, -},
  tick align=inside, major tick length=4pt,
  every tick/.style={draw=axcol, line width=0.75pt},
  ytick={0,0.1,0.2,0.3,0.4,0.5,0.6,0.7,0.8,0.9,1},
  xtick={0.5}, xticklabels={Class shares},
  /pgf/number format/assume math mode=true,
  yticklabel style={font=\arial\fontsize{12}{13}\selectfont, text=axcol, xshift=1pt},
  xticklabel style={font=\arial\fontsize{11.6}{13}\selectfont, text=axcol, yshift=-1pt}]
\addplot[ybar, bar width=0.4, bar shift=0pt, fill=cNoise, draw=black, line width=0.5pt] coordinates {(0.5,1)};
\addplot[ybar, bar width=0.4, bar shift=0pt, fill=cSupply, draw=black, line width=0.5pt] coordinates {(0.5,0.823)};
\addplot[ybar, bar width=0.4, bar shift=0pt, fill=cDemand, draw=black, line width=0.5pt] coordinates {(0.5,0.40)};
\end{axis}
\end{tikzpicture}
\end{document}
